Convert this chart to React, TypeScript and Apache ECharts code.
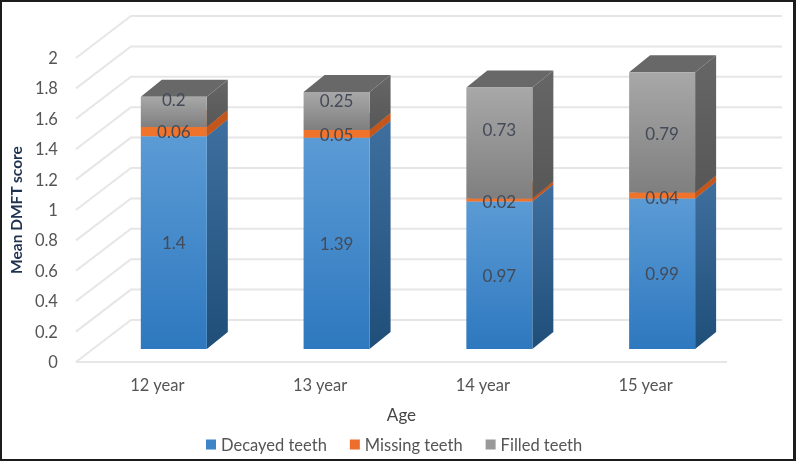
import React, { useEffect, useRef } from "react";
import * as echarts from "echarts";

const categories = ["12 year", "13 year", "14 year", "15 year"];
const decayed = [1.4, 1.39, 0.97, 0.99];
const missing = [0.06, 0.05, 0.02, 0.04];
const filled = [0.2, 0.25, 0.73, 0.79];
const yTicks = [0, 0.2, 0.4, 0.6, 0.8, 1, 1.2, 1.4, 1.6, 1.8, 2];

const FONT = "Lato, sans-serif";
const FLOOR_DX = 55, FLOOR_DY = -42;
const BAR_W = 66, BAR_DX = 16.5, BAR_DY = -13, SIDE_DX = 21, SIDE_DY = -17;

const grad = (a: string, b: string) =>
  new echarts.graphic.LinearGradient(0, 0, 0, 1, [
    { offset: 0, color: a },
    { offset: 1, color: b },
  ]);

const wallsItem = (params: any, api: any) => {
  const cs = params.coordSys;
  const v = api.value(1);
  const y = api.coord([0, v])[1];
  const x0 = cs.x, x1 = cs.x + cs.width;
  const style = { stroke: "#e6e6e6", lineWidth: 2, fill: "none" };
  const children: any[] = [
    { type: "polyline", shape: { points: [[x0, y], [x0 + FLOOR_DX, y + FLOOR_DY], [x1 + FLOOR_DX, y + FLOOR_DY]] }, style },
  ];
  if (v === 0) children.push({ type: "line", shape: { x1: x0, y1: y, x2: x1, y2: y }, style });
  return { type: "group", children };
};

type Look = { front: any; side: any; top: string; nudge: number[] };

const barItem = (look: Look) => (params: any, api: any) => {
  const i = api.value(0), base = api.value(1), val = api.value(2);
  const cx = api.coord([i, 0])[0] + BAR_DX;
  const yb = api.coord([i, base])[1] + BAR_DY;
  const yt = api.coord([i, base + val])[1] + BAR_DY;
  const l = cx - BAR_W / 2, r = cx + BAR_W / 2;
  return {
    type: "group",
    children: [
      { type: "polygon", shape: { points: [[l, yt], [r, yt], [r + SIDE_DX, yt + SIDE_DY], [l + SIDE_DX, yt + SIDE_DY]] }, style: { fill: look.top } },
      { type: "polygon", shape: { points: [[r, yb], [r, yt], [r + SIDE_DX, yt + SIDE_DY], [r + SIDE_DX, yb + SIDE_DY]] }, style: { fill: look.side } },
      { type: "rect", shape: { x: l, y: yt, width: BAR_W, height: yb - yt }, style: { fill: look.front } },
      {
        type: "text",
        z2: 100,
        style: {
          x: cx,
          y: (yt + yb) / 2 + look.nudge[i],
          text: String(val),
          align: "center",
          verticalAlign: "middle",
          fill: "#434a58",
          font: `17px ${FONT}`,
        },
      },
    ],
  };
};

const stack = (vals: number[], bases: number[][]) =>
  vals.map((v, i) => [i, bases.reduce((s, b) => s + b[i], 0), v]);

export default function App() {
  const ref = useRef<HTMLDivElement>(null);
  useEffect(() => {
    const chart = echarts.init(ref.current!, undefined, { renderer: "svg" });
    const textStyle = { color: "#555555", fontFamily: FONT, fontSize: 16.5 };
    chart.setOption({
      animation: false,
      backgroundColor: "#ffffff",
      grid: { left: 75, width: 652, top: 58, height: 304 },
      xAxis: {
        type: "category",
        data: categories,
        axisLine: { show: false },
        axisTick: { show: false },
        axisLabel: { ...textStyle, margin: 14 },
        name: "Age",
        nameLocation: "middle",
        nameGap: 44,
        nameTextStyle: { color: "#444444", fontFamily: FONT, fontSize: 17 },
      },
      yAxis: {
        type: "value",
        min: 0,
        max: 2,
        interval: 0.2,
        axisLine: { show: false },
        axisTick: { show: false },
        splitLine: { show: false },
        axisLabel: { ...textStyle, margin: 18, formatter: (v: number) => String(Number(v.toFixed(1))) },
        name: "Mean DMFT score",
        nameLocation: "middle",
        nameGap: 51,
        nameTextStyle: { color: "#1f3350", fontFamily: FONT, fontSize: 15.5, fontWeight: "bold" },
      },
      legend: {
        left: 206,
        top: 436,
        icon: "rect",
        itemWidth: 10,
        itemHeight: 10,
        itemGap: 23,
        padding: 0,
        data: ["Decayed teeth", "Missing teeth", "Filled teeth"],
        textStyle: { ...textStyle },
      },
      series: [
        {
          type: "custom",
          silent: true,
          data: yTicks.map((t) => [0, t]),
          encode: { x: 0, y: 1 },
          renderItem: wallsItem,
        },
        {
          type: "custom",
          name: "Decayed teeth",
          itemStyle: { color: "#3d85c6" },
          data: stack(decayed, []),
          encode: { x: 0, y: 1 },
          renderItem: barItem({ front: grad("#5b9bd5", "#2e78bf"), side: grad("#3f6f9e", "#1f4e79"), top: "#5b9bd5", nudge: [0, 0, 0, 0] }),
        },
        {
          type: "custom",
          name: "Missing teeth",
          itemStyle: { color: "#ed6d2c" },
          data: stack(missing, [decayed]),
          encode: { x: 0, y: 1 },
          renderItem: barItem({ front: "#f0732b", side: "#c4561c", top: "#f0732b", nudge: [0, 1, 1, 2] }),
        },
        {
          type: "custom",
          name: "Filled teeth",
          itemStyle: { color: "#999999" },
          data: stack(filled, [decayed, missing]),
          encode: { x: 0, y: 1 },
          renderItem: barItem({ front: grad("#a8a8a8", "#7f7f7f"), side: grad("#666666", "#575757"), top: "#686868", nudge: [-12, -11, -14, 1] }),
        },
      ],
    });
    return () => chart.dispose();
  }, []);
  return (
    <div style={{ position: "fixed", left: 0, top: 0, width: 796, height: 461, overflow: "hidden", background: "#fff" }}>
      <div ref={ref} style={{ width: 796, height: 461, filter: "blur(0.6px)" }} />
      <div
        style={{
          position: "absolute",
          inset: 0,
          boxSizing: "border-box",
          pointerEvents: "none",
          borderStyle: "solid",
          borderColor: "#1c1c1c",
          borderWidth: "2px 3px 2px 2px",
        }}
      />
    </div>
  );
}
